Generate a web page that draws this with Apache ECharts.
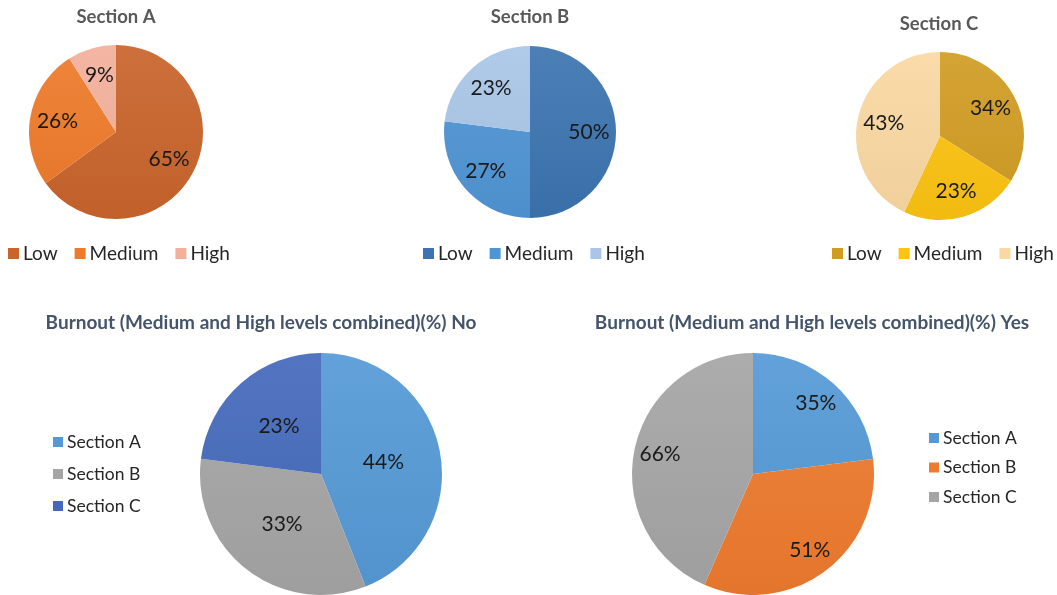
<!DOCTYPE html>
<html><head><meta charset="utf-8">
<script src="https://cdn.jsdelivr.net/npm/echarts@6/dist/echarts.min.js"></script>
<style>
html,body{margin:0;padding:0;background:#fff;width:1057px;height:595px;overflow:hidden}
.c{position:absolute;left:0;top:0;width:1057px;height:595px}
</style></head><body>
<div id="c0" class="c"></div><div id="c1" class="c"></div><div id="c2" class="c"></div><div id="c3" class="c"></div><div id="c4" class="c"></div>
<script>
// ---- data ----
const levelNames = ['Low', 'Medium', 'High'];
const sectionNames = ['Section A', 'Section B', 'Section C'];
const sectionAValues = [65, 26, 9];
const sectionBValues = [50, 27, 23];
const sectionCValues = [34, 23, 43];
const burnoutNoValues = [44, 33, 23];
const burnoutYesValues = [35, 51, 66];
const chartTitles = ['Section A', 'Section B', 'Section C',
  'Burnout (Medium and High levels combined)(%) No',
  'Burnout (Medium and High levels combined)(%) Yes'];

// ---- layout / style ----
const FONT = 'Lato, "Open Sans", sans-serif';
const layouts = [
  { names: levelNames, values: sectionAValues, colors: ['#C9642B', '#EE7A2A', '#F3B09B'],
    cx: 116, cy: 132, r: 87, labelFrac: 0.65,
    title: { x: 116, y: 17, size: 18.5, color: '#595959' },
    legend: { orient: 'horizontal', left: 8, top: 244, gap: 17, icon: 11, size: 19 } },
  { names: levelNames, values: sectionBValues, colors: ['#3B74B0', '#4F95D4', '#A9C5E7'],
    cx: 530, cy: 132, r: 86, labelFrac: 0.65,
    title: { x: 530, y: 17, size: 18.5, color: '#595959' },
    legend: { orient: 'horizontal', left: 423, top: 244, gap: 17, icon: 11, size: 19 } },
  { names: levelNames, values: sectionCValues, colors: ['#D09C22', '#FCC312', '#FAD8A1'],
    cx: 940, cy: 136, r: 84, labelFrac: 0.65,
    title: { x: 939, y: 24, size: 18.5, color: '#595959' },
    legend: { orient: 'horizontal', left: 832, top: 244, gap: 17, icon: 11, size: 19 } },
  { names: sectionNames, values: burnoutNoValues, colors: ['#5499D6', '#A5A5A5', '#4469BC'],
    cx: 321, cy: 474, r: 121, labelFrac: 0.5,
    title: { x: 261, y: 323, size: 19, color: '#44546A' },
    legend: { orient: 'vertical', left: 53, top: 433, gap: 14, icon: 10, size: 17.5 } },
  { names: sectionNames, values: burnoutYesValues, colors: ['#5499D6', '#EE7A2E', '#A5A5A5'],
    cx: 753, cy: 474, r: 121, labelFrac: 0.76,
    title: { x: 812, y: 323, size: 19, color: '#44546A' },
    legend: { orient: 'vertical', left: 929, top: 429, gap: 11.5, icon: 10, size: 17.5 } }
];

function shade(hex, amt) {
  const n = parseInt(hex.slice(1), 16);
  let r = n >> 16, g = (n >> 8) & 255, b = n & 255;
  const f = c => amt >= 0 ? Math.round(c + (255 - c) * amt) : Math.round(c * (1 + amt));
  r = f(r); g = f(g); b = f(b);
  return '#' + ((1 << 24) + (r << 16) + (g << 8) + b).toString(16).slice(1);
}

layouts.forEach((L, i) => {
  const chart = echarts.init(document.getElementById('c' + i), null, { renderer: 'canvas' });
  const grad = c => ({
    type: 'linear', global: true, x: 0, y: L.cy - L.r, x2: 0, y2: L.cy + L.r,
    colorStops: [{ offset: 0, color: shade(c, 0.08) }, { offset: 1, color: shade(c, -0.04) }]
  });
  const data = L.names.map((n, k) => ({ name: n, value: L.values[k], itemStyle: { color: grad(L.colors[k]) } }));
  const labelData = L.names.map((n, k) => ({ name: n, value: L.values[k] }));
  const r0 = Math.max(0, (2 * L.labelFrac - 1) * L.r);
  chart.setOption({
    animation: false,
    backgroundColor: 'transparent',
    title: {
      text: chartTitles[i], left: L.title.x, top: L.title.y - L.title.size * 0.5, textAlign: 'center', padding: 0,
      textStyle: { fontFamily: FONT, fontSize: L.title.size, fontWeight: 'bold', color: L.title.color }
    },
    legend: {
      orient: L.legend.orient, left: L.legend.left, top: L.legend.top, padding: 0,
      itemGap: L.legend.gap, itemWidth: L.legend.icon, itemHeight: L.legend.icon, icon: 'rect',
      selectedMode: false,
      textStyle: { fontFamily: FONT, fontSize: L.legend.size, color: '#262626', padding: [0, 0, 0, -1] },
      data: L.names.map((n, k) => ({ name: n, itemStyle: { color: L.colors[k] } }))
    },
    series: [
      {
        type: 'pie', center: [L.cx, L.cy], radius: [0, L.r], startAngle: 90, clockwise: true,
        label: { show: false }, labelLine: { show: false }, emphasis: { disabled: true },
        itemStyle: { borderWidth: 0 },
        data: data
      },
      {
        type: 'pie', center: [L.cx, L.cy], radius: [r0, L.r], startAngle: 90, clockwise: true,
        silent: true, emphasis: { disabled: true }, labelLine: { show: false },
        itemStyle: { color: 'rgba(0,0,0,0)', borderWidth: 0 },
        label: { show: true, position: 'inside', formatter: '{c}%', fontFamily: FONT, fontSize: 21, color: '#1a1a1a' },
        data: labelData
      }
    ]
  });
});
</script>
</body></html>
